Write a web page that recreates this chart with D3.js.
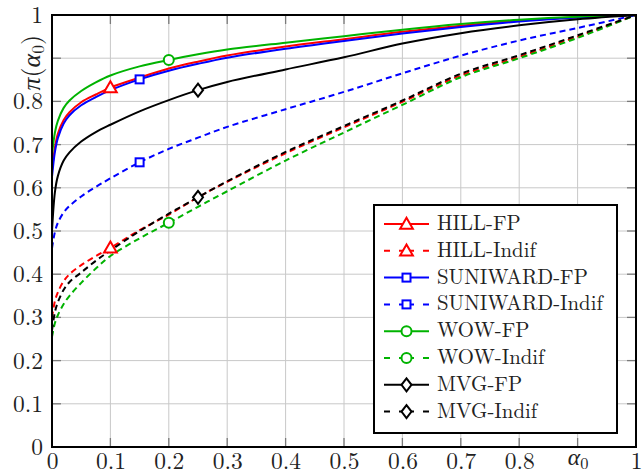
<!DOCTYPE html>
<html lang="en">
<head>
  <meta charset="UTF-8">
  <title>pi(alpha0) curves</title>
  <style>
    body { margin: 0; background: #fff; }
    svg text { font-family: 'Latin Modern Roman', 'Liberation Serif', serif; }
  </style>
</head>
<body>
  <script src="https://cdn.jsdelivr.net/npm/d3@7"></script>
  <div id="chart"></div>

  <script>
    // ---- data ----------------------------------------------------------------
    const alpha = [0, 0.005, 0.01, 0.02, 0.03, 0.05, 0.075, 0.1, 0.15, 0.2, 0.25, 0.3, 0.4, 0.5, 0.6, 0.7, 0.8, 0.9, 1]

    const hillFP       = [0.640, 0.693, 0.725, 0.757, 0.775, 0.798, 0.816, 0.832, 0.855, 0.876, 0.892, 0.906, 0.927, 0.944, 0.961, 0.975, 0.987, 0.995, 1]
    const hillIndif    = [0.300, 0.338, 0.358, 0.384, 0.400, 0.421, 0.442, 0.461, 0.502, 0.538, 0.578, 0.614, 0.680, 0.740, 0.799, 0.860, 0.903, 0.950, 1]
    const suniFP       = [0.625, 0.683, 0.715, 0.749, 0.768, 0.791, 0.810, 0.826, 0.851, 0.871, 0.887, 0.901, 0.922, 0.940, 0.957, 0.972, 0.985, 0.994, 1]
    const suniIndif    = [0.460, 0.498, 0.519, 0.543, 0.558, 0.580, 0.602, 0.622, 0.659, 0.690, 0.716, 0.741, 0.782, 0.822, 0.865, 0.906, 0.941, 0.970, 1]
    const wowFP        = [0.676, 0.728, 0.755, 0.785, 0.802, 0.824, 0.844, 0.860, 0.881, 0.896, 0.909, 0.920, 0.936, 0.951, 0.966, 0.979, 0.989, 0.996, 1]
    const wowIndif     = [0.255, 0.287, 0.305, 0.331, 0.350, 0.380, 0.413, 0.442, 0.483, 0.519, 0.556, 0.592, 0.663, 0.728, 0.792, 0.856, 0.900, 0.947, 1]
    const mvgFP        = [0.500, 0.590, 0.627, 0.663, 0.682, 0.707, 0.729, 0.746, 0.777, 0.803, 0.826, 0.845, 0.874, 0.902, 0.934, 0.958, 0.976, 0.990, 1]
    const mvgIndif     = [0.270, 0.312, 0.335, 0.364, 0.382, 0.404, 0.431, 0.455, 0.500, 0.540, 0.578, 0.615, 0.683, 0.743, 0.802, 0.864, 0.907, 0.953, 1]

    const names   = ['HILL-FP', 'HILL-Indif', 'SUNIWARD-FP', 'SUNIWARD-Indif', 'WOW-FP', 'WOW-Indif', 'MVG-FP', 'MVG-Indif']
    const markAt  = [0.1, 0.1, 0.15, 0.15, 0.2, 0.2, 0.25, 0.25]

    const xTicks = [0, 0.1, 0.2, 0.3, 0.4, 0.5, 0.6, 0.7, 0.8, 0.9, 1]
    const xTickLabels = ['0', '0.1', '0.2', '0.3', '0.4', '0.5', '0.6', '0.7', '0.8', 'alpha', '1']
    const yTicks = [0, 0.1, 0.2, 0.3, 0.4, 0.5, 0.6, 0.7, 0.8, 0.9, 1]
    const yTickLabels = ['0', '0.1', '0.2', '0.3', '0.4', '0.5', '0.6', '0.7', '0.8', 'pi', '1']

    // ---- styles ----------------------------------------------------------------
    const colors  = ['#ff0000', '#ff0000', '#0000ff', '#0000ff', '#00b300', '#00b300', '#000000', '#000000']
    const markers = ['triangle', 'triangle', 'square', 'square', 'circle', 'circle', 'diamond', 'diamond']
    const series = names.map((n, i) => ({
      name: n,
      values: [hillFP, hillIndif, suniFP, suniIndif, wowFP, wowIndif, mvgFP, mvgIndif][i],
      color: colors[i],
      marker: markers[i],
      dashed: n.endsWith('Indif'),
      markAt: markAt[i]
    }))

    const W = 644, H = 475
    const mLeft = 52, mTop = 15, pw = 584, ph = 432

    const svg = d3.select('#chart')
      .append('svg')
      .attr('width', W)
      .attr('height', H)

    // pick font sizes so the texts come out as wide as in the picture
    function fitSize(str, target) {
      const t = svg.append('text').attr('font-size', 20).text(str)
      const w = t.node().getComputedTextLength()
      t.remove()
      return w > 0 ? 20 * target / w : 20
    }
    const tickFs = fitSize('0.8', 30)
    const legendFs = fitSize('SUNIWARD-Indif', 166)

    const plotArea = svg.append('g')
      .attr('transform', `translate(${mLeft}, ${mTop})`)

    const x = d3.scaleLinear().domain([0, 1]).range([0, pw])
    const y = d3.scaleLinear().domain([0, 1]).range([ph, 0])

    // grid
    plotArea.append('g')
      .selectAll('line')
      .data(xTicks)
      .join('line')
      .attr('x1', d => x(d)).attr('x2', d => x(d))
      .attr('y1', 0).attr('y2', ph)
      .attr('stroke', '#c8c8c8').attr('stroke-width', 1)
    plotArea.append('g')
      .selectAll('line')
      .data(yTicks)
      .join('line')
      .attr('x1', 0).attr('x2', pw)
      .attr('y1', d => y(d)).attr('y2', d => y(d))
      .attr('stroke', '#c8c8c8').attr('stroke-width', 1)

    // inner tick marks on all four sides
    const tl = 9
    const tickG = plotArea.append('g').attr('stroke', '#7a7a7a').attr('stroke-width', 1.3)
    xTicks.forEach(t => {
      tickG.append('line').attr('x1', x(t)).attr('x2', x(t)).attr('y1', ph).attr('y2', ph - tl)
      tickG.append('line').attr('x1', x(t)).attr('x2', x(t)).attr('y1', 0).attr('y2', tl)
    })
    yTicks.forEach(t => {
      tickG.append('line').attr('x1', 0).attr('x2', tl).attr('y1', y(t)).attr('y2', y(t))
      tickG.append('line').attr('x1', pw).attr('x2', pw - tl).attr('y1', y(t)).attr('y2', y(t))
    })

    // curves
    plotArea.append('clipPath').attr('id', 'clip')
      .append('rect').attr('width', pw).attr('height', ph)

    const line = d3.line()
      .x((d, i) => x(alpha[i]))
      .y(d => y(d))
      .curve(d3.curveCatmullRom.alpha(0.5))

    const curves = plotArea.append('g').attr('clip-path', 'url(#clip)')

    function drawMarker(g, type, cx, cy, color) {
      let m
      if (type === 'triangle') {
        m = g.append('path').attr('d', d3.symbol(d3.symbolTriangle, 70)())
        m.attr('transform', `translate(${cx}, ${cy + 1})`)
      } else if (type === 'square') {
        m = g.append('rect').attr('x', cx - 4).attr('y', cy - 4).attr('width', 8).attr('height', 8)
      } else if (type === 'circle') {
        m = g.append('circle').attr('cx', cx).attr('cy', cy).attr('r', 5)
      } else {
        m = g.append('path').attr('d', `M${cx},${cy - 6.5}L${cx + 5},${cy}L${cx},${cy + 6.5}L${cx - 5},${cy}Z`)
      }
      m.attr('fill', '#fff').attr('stroke', color).attr('stroke-width', 2)
    }

    series.forEach(s => {
      curves.append('path')
        .datum(s.values)
        .attr('d', line)
        .attr('fill', 'none')
        .attr('stroke', s.color)
        .attr('stroke-width', 2)
        .attr('stroke-dasharray', s.dashed ? '6,4' : null)
      const k = alpha.indexOf(s.markAt)
      drawMarker(plotArea, s.marker, x(alpha[k]), y(s.values[k]), s.color)
    })

    // frame
    plotArea.append('rect')
      .attr('width', pw).attr('height', ph)
      .attr('fill', 'none').attr('stroke', '#000').attr('stroke-width', 2)

    // axes labels (via d3 axes, domain hidden)
    const xAxis = plotArea.append('g')
      .attr('transform', `translate(0, ${ph})`)
      .call(d3.axisBottom(x).tickValues(xTicks).tickSize(0)
        .tickFormat((d, i) => xTickLabels[i]))
    const yAxis = plotArea.append('g')
      .call(d3.axisLeft(y).tickValues(yTicks).tickSize(0).tickPadding(9)
        .tickFormat((d, i) => yTickLabels[i]))

    ;[xAxis, yAxis].forEach(a => {
      a.attr('font-family', null)
      a.select('.domain').remove()
      a.selectAll('text').attr('font-size', tickFs).attr('fill', '#222')
    })
    xAxis.selectAll('text').attr('y', 22).attr('dy', null)

    // alpha_0 instead of 0.9 on x, pi(alpha_0) instead of 0.9 on y
    xAxis.selectAll('text').filter(d => d === 0.9).each(function () {
      const t = d3.select(this).text(null).attr('y', 18)
      t.append('tspan').text('α').attr('font-style', 'italic')
      t.append('tspan').text('0').attr('font-size', tickFs * 0.7).attr('dy', 4)
    })
    yAxis.selectAll('.tick').filter(d => d === 0.9).each(function () {
      const t = d3.select(this).select('text').text(null)
        .attr('x', 0).attr('dy', null)
        .attr('text-anchor', 'middle')
        .attr('font-size', tickFs * 1.1)
        .attr('transform', 'translate(-12, 4) rotate(-90)')
      t.append('tspan').text('π').attr('font-style', 'italic')
      t.append('tspan').text('(')
      t.append('tspan').text('α').attr('font-style', 'italic')
      t.append('tspan').text('0').attr('font-size', tickFs * 0.75).attr('dy', 4)
      t.append('tspan').text(')').attr('dy', -4)
    })

    // legend
    const lg = svg.append('g').attr('transform', 'translate(374, 205)')
    lg.append('rect')
      .attr('width', 243).attr('height', 228)
      .attr('fill', '#fff').attr('stroke', '#000').attr('stroke-width', 2)

    series.forEach((s, i) => {
      const row = lg.append('g').attr('transform', `translate(0, ${19 + i * 26.8})`)
      row.append('line')
        .attr('x1', 10).attr('x2', 55).attr('y1', 0).attr('y2', 0)
        .attr('stroke', s.color).attr('stroke-width', 2)
        .attr('stroke-dasharray', s.dashed ? '6,9,15,9,6' : null)
      drawMarker(row, s.marker, 32.5, 0, s.color)
      row.append('text')
        .attr('x', 63).attr('y', 6)
        .attr('font-size', legendFs).attr('fill', '#222')
        .text(s.name)
    })
  </script>
</body>
</html>
